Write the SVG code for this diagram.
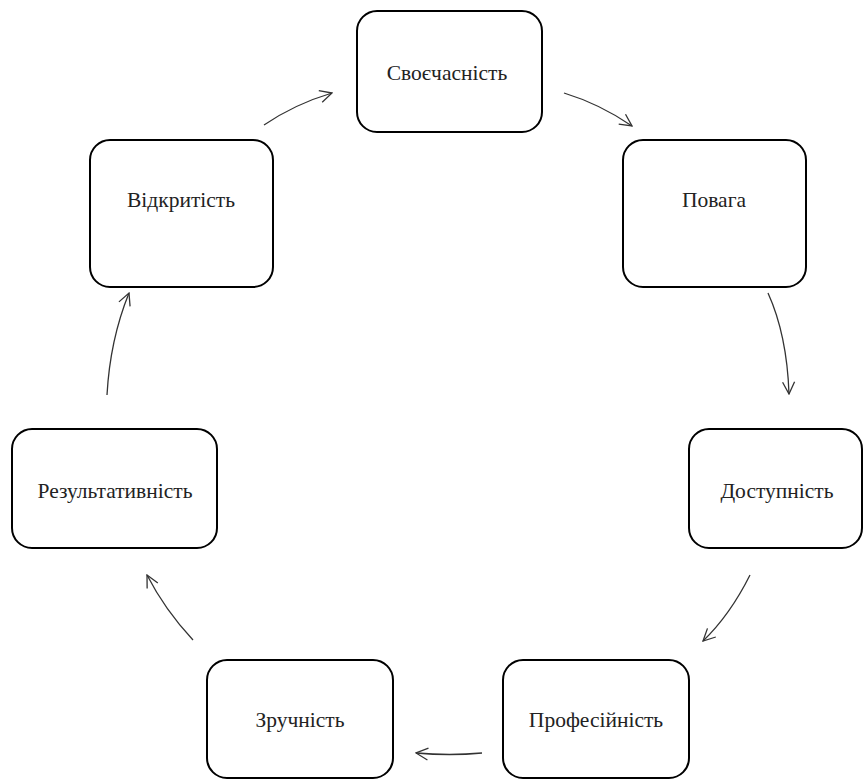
<svg xmlns="http://www.w3.org/2000/svg" width="864" height="780" viewBox="0 0 864 780">
<defs>
<style>
.box{fill:#fff;stroke:#000;stroke-width:2}
.lbl{font-family:'Liberation Serif','DejaVu Serif',serif;font-size:21.5px;fill:#222;text-anchor:middle;dominant-baseline:central}
.edge{fill:none;stroke:#333;stroke-width:1.3}
</style>
<marker id="ah" viewBox="0 0 14 14" refX="13" refY="7" markerWidth="14" markerHeight="14" markerUnits="userSpaceOnUse" orient="auto">
<path d="M1,1 L13,7 L1,13" fill="none" stroke="#333" stroke-width="1.3"/>
</marker>
</defs>
<rect width="864" height="780" fill="#fff"/>
<g id="n1"><rect class="box" x="357" y="11" width="185" height="121" rx="20"/><text class="lbl" x="447" y="73">Своєчасність</text></g>
<g id="n2"><rect class="box" x="623" y="140" width="183" height="147" rx="20"/><text class="lbl" x="714" y="200">Повага</text></g>
<g id="n3"><rect class="box" x="689" y="429" width="173" height="119" rx="20"/><text class="lbl" x="777" y="491">Доступність</text></g>
<g id="n4"><rect class="box" x="503" y="660" width="186" height="118" rx="20"/><text class="lbl" x="596" y="720">Професійність</text></g>
<g id="n5"><rect class="box" x="207" y="660" width="186" height="118" rx="20"/><text class="lbl" x="300" y="720">Зручність</text></g>
<g id="n6"><rect class="box" x="12" y="429" width="205" height="119" rx="20"/><text class="lbl" x="115" y="491">Результативність</text></g>
<g id="n7"><rect class="box" x="90" y="140" width="183" height="147" rx="20"/><text class="lbl" x="181" y="200">Відкритість</text></g>
<g id="edges">
<path class="edge" d="M264,125 Q295,104 332,93" marker-end="url(#ah)"/>
<path class="edge" d="M564,93 Q600,104 632,126" marker-end="url(#ah)"/>
<path class="edge" d="M768,293 Q787,335 789,394" marker-end="url(#ah)"/>
<path class="edge" d="M750,575 Q730,615 703,641" marker-end="url(#ah)"/>
<path class="edge" d="M482,753 Q450,756 416,753" marker-end="url(#ah)"/>
<path class="edge" d="M193,640 Q165,610 147,575" marker-end="url(#ah)"/>
<path class="edge" d="M107,395 Q110,340 129,293" marker-end="url(#ah)"/>
</g>
</svg>
